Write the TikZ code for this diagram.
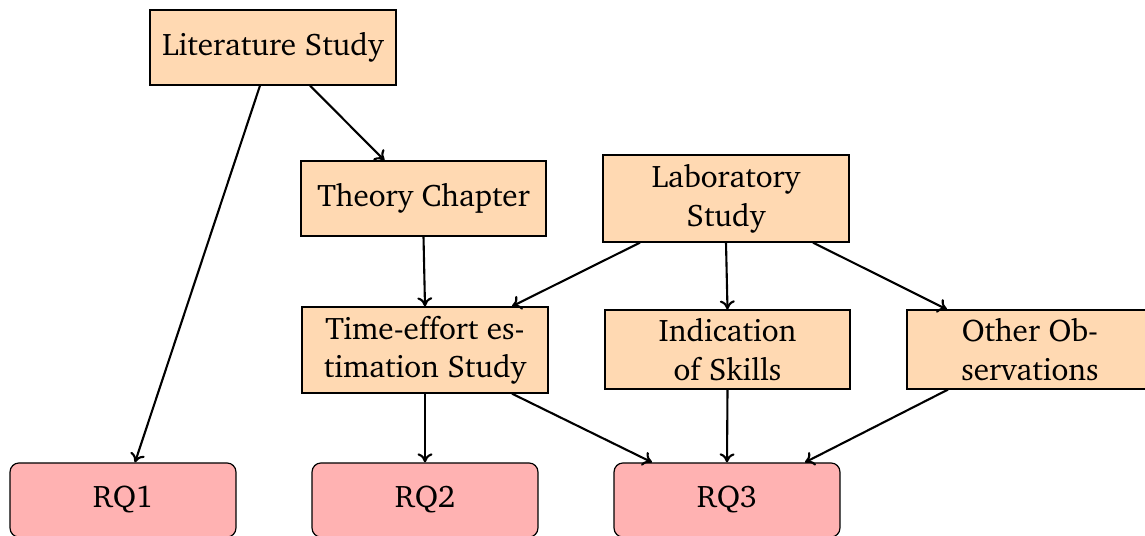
\documentclass[tikz,border=0pt]{standalone}
\usepackage[T1]{fontenc}
\usepackage{charter}
\usetikzlibrary{calc,arrows.meta}
\begin{document}
\begin{tikzpicture}[x=0.3333pt,y=-0.3333pt,
  every node/.style={font=\fontsize{10.4}{12.8}\selectfont, align=center, inner sep=0pt},
  taskbox/.style={draw=black, fill=orange!30, line width=0.4pt, minimum width=82pt},
  rqbox/.style={draw=black, fill=red!30, rounded corners=3pt, line width=0.4pt,
    minimum width=75.3pt, minimum height=24.7pt},
  link/.style={-{To[length=3pt,width=5pt]}, line width=0.7pt}]
\useasboundingbox (0,0) rectangle (1145,535);
\clip (0,0) rectangle (1145,535);

% study boxes
\node[taskbox, minimum height=25pt] (lit) at (273,47.5) {Literature Study};
\node[taskbox, minimum height=25pt, minimum width=81.7pt] (theory) at (423.5,198.5) {Theory Chapter};
\node[taskbox, minimum height=29pt] (lab) at (726,198.5) {Laboratory\\Study};
\node[taskbox, minimum height=28.7pt] (time) at (425,350) {Time-effort es-\\timation Study};
\node[taskbox, minimum height=26.3pt, minimum width=81.7pt] (ind) at (727.5,349.5) {Indication\\of Skills};
\node[taskbox, minimum height=26.3pt] (oth) at (1030,349.5) {Other Ob-\\servations};

% research questions
\node[rqbox] (rq1) at (123,500) {RQ1};
\node[rqbox] (rq2) at (425,500) {RQ2};
\node[rqbox] (rq3) at (727,500) {RQ3};

% connectors
\draw[link] ($(lit.south)+(-13,0)$) -- ($(rq1.north)+(12,0)$);
\draw[link] ($(lit.south)+(37,0)$) -- ($(theory.north)+(-39,0)$);
\draw[link] (theory.south) -- (time.north);
\draw[link] ($(lab.south)+(-86,0)$) -- ($(time.north)+(87,0)$);
\draw[link] (lab.south) -- (ind.north);
\draw[link] ($(lab.south)+(87,0)$) -- ($(oth.north)+(-83,0)$);
\draw[link] (time.south) -- (rq2.north);
\draw[link] ($(time.south)+(87,0)$) -- ($(rq3.north)+(-75,0)$);
\draw[link] (ind.south) -- (rq3.north);
\draw[link] ($(oth.south)+(-82,0)$) -- ($(rq3.north)+(78,0)$);
\end{tikzpicture}
\end{document}
